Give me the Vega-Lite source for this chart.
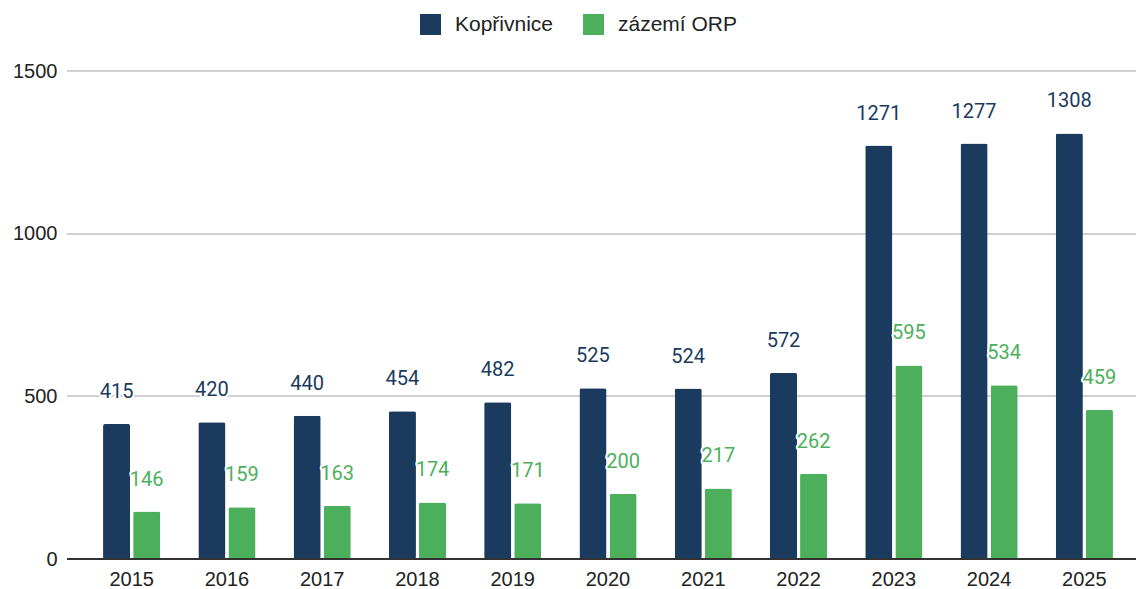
{
  "$schema": "https://vega.github.io/schema/vega-lite/v6.json",
  "autosize": {"type": "none"},
  "width": 1069,
  "height": 488,
  "padding": {"left": 67, "top": 71, "right": 0, "bottom": 30},
  "background": "white",
  "config": {"view": {"stroke": null}},
  "data": {"values": [
    {"rok": "2015", "serie": "Kopřivnice", "hodnota": 415},
    {"rok": "2015", "serie": "zázemí ORP", "hodnota": 146},
    {"rok": "2016", "serie": "Kopřivnice", "hodnota": 420},
    {"rok": "2016", "serie": "zázemí ORP", "hodnota": 159},
    {"rok": "2017", "serie": "Kopřivnice", "hodnota": 440},
    {"rok": "2017", "serie": "zázemí ORP", "hodnota": 163},
    {"rok": "2018", "serie": "Kopřivnice", "hodnota": 454},
    {"rok": "2018", "serie": "zázemí ORP", "hodnota": 174},
    {"rok": "2019", "serie": "Kopřivnice", "hodnota": 482},
    {"rok": "2019", "serie": "zázemí ORP", "hodnota": 171},
    {"rok": "2020", "serie": "Kopřivnice", "hodnota": 525},
    {"rok": "2020", "serie": "zázemí ORP", "hodnota": 200},
    {"rok": "2021", "serie": "Kopřivnice", "hodnota": 524},
    {"rok": "2021", "serie": "zázemí ORP", "hodnota": 217},
    {"rok": "2022", "serie": "Kopřivnice", "hodnota": 572},
    {"rok": "2022", "serie": "zázemí ORP", "hodnota": 262},
    {"rok": "2023", "serie": "Kopřivnice", "hodnota": 1271},
    {"rok": "2023", "serie": "zázemí ORP", "hodnota": 595},
    {"rok": "2024", "serie": "Kopřivnice", "hodnota": 1277},
    {"rok": "2024", "serie": "zázemí ORP", "hodnota": 534},
    {"rok": "2025", "serie": "Kopřivnice", "hodnota": 1308},
    {"rok": "2025", "serie": "zázemí ORP", "hodnota": 459}
  ]},
  "encoding": {
    "x": {
      "field": "rok", "type": "nominal", "title": null,
      "scale": {"range": [17, 1065], "paddingInner": 0.4, "paddingOuter": 0.2},
      "axis": {"domain": false, "ticks": false, "labelAngle": 0, "labelFont": "Liberation Sans", "labelFontSize": 20, "labelColor": "#222222", "labelPadding": 10}
    },
    "xOffset": {"field": "serie", "type": "nominal", "scale": {"paddingInner": 0.1, "paddingOuter": 0}},
    "y": {
      "field": "hodnota", "type": "quantitative", "title": null,
      "scale": {"domain": [0, 1500], "nice": false},
      "axis": {"values": [0, 500, 1000, 1500], "format": "d", "grid": false, "domain": false, "ticks": false, "labelFont": "Liberation Sans", "labelFontSize": 20, "labelColor": "#222222", "labelPadding": 10}
    }
  },
  "layer": [
    {
      "mark": {"type": "rule", "color": "#d0d0d0", "strokeWidth": 1.3},
      "encoding": {"y": {"datum": 500}, "x": null, "xOffset": null}
    },
    {
      "mark": {"type": "rule", "color": "#d0d0d0", "strokeWidth": 1.3},
      "encoding": {"y": {"datum": 1000}, "x": null, "xOffset": null}
    },
    {
      "mark": {"type": "rule", "color": "#d0d0d0", "strokeWidth": 1.3},
      "encoding": {"y": {"datum": 1500}, "x": null, "xOffset": null}
    },
    {
      "mark": {"type": "bar", "cornerRadius": 2},
      "encoding": {
        "color": {
          "field": "serie", "type": "nominal",
          "scale": {"domain": ["Kopřivnice", "zázemí ORP"], "range": ["#1a3a5e", "#4caf5b"]},
          "legend": {
            "title": null, "orient": "none", "direction": "horizontal",
            "legendX": 353, "legendY": -57,
            "symbolType": "square", "symbolSize": 440, "symbolStrokeWidth": 0, "symbolOpacity": 1,
            "labelFont": "Liberation Sans", "labelFontSize": 21, "labelColor": "#222222",
            "labelOffset": 14, "columnPadding": 29
          }
        }
      }
    },
    {
      "mark": {"type": "rule", "color": "#333333", "strokeWidth": 1.5},
      "encoding": {"y": {"datum": 0}, "x": null, "xOffset": null}
    },
    {
      "mark": {"type": "text", "font": "Roboto", "fontSize": 20, "baseline": "middle", "dy": -32, "stroke": "white", "strokeWidth": 4, "fill": "white", "strokeJoin": "round"},
      "encoding": {"text": {"field": "hodnota", "type": "quantitative"}}
    },
    {
      "mark": {"type": "text", "font": "Roboto", "fontSize": 20, "baseline": "middle", "dy": -32},
      "encoding": {
        "text": {"field": "hodnota", "type": "quantitative"},
        "color": {"field": "serie", "type": "nominal", "legend": null,
          "scale": {"domain": ["Kopřivnice", "zázemí ORP"], "range": ["#1a3a5e", "#4caf5b"]}}
      }
    }
  ]
}
